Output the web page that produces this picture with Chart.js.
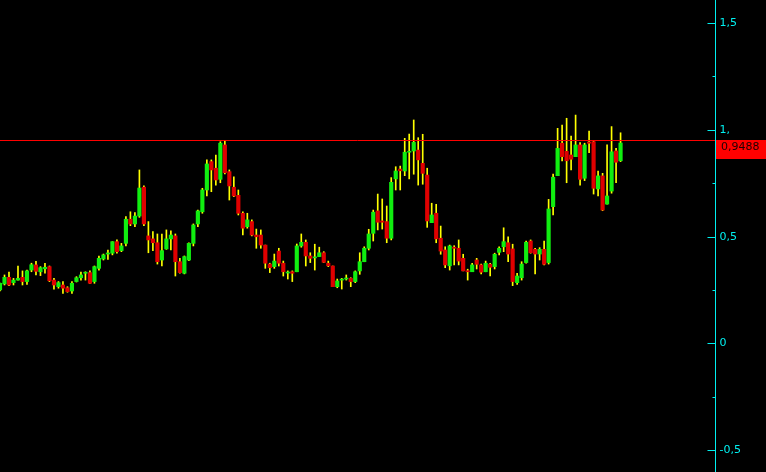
<!DOCTYPE html>
<html>
<head>
<meta charset="utf-8">
<script src="https://cdn.jsdelivr.net/npm/chart.js@4.4.0/dist/chart.umd.min.js"></script>
<style>
  html, body { margin: 0; padding: 0; background: #000000; }
  #wrap { width: 766px; height: 472px; position: relative; }
</style>
</head>
<body>
<div id="wrap"><canvas id="priceChart"></canvas></div>
<script>
// ローソク足データ（始値・高値・安値・終値）
const opens = [
  0.250, 0.278, 0.309, 0.284, 0.296, 0.309, 0.289, 0.343, 0.367, 0.335,
  0.349, 0.359, 0.296, 0.265, 0.273, 0.260, 0.245, 0.289, 0.307, 0.328,
  0.331, 0.289, 0.351, 0.395, 0.418, 0.422, 0.476, 0.434, 0.468, 0.581,
  0.559, 0.596, 0.731, 0.503, 0.489, 0.471, 0.390, 0.442, 0.489, 0.503,
  0.382, 0.328, 0.390, 0.468, 0.559, 0.616, 0.718, 0.851, 0.820, 0.768,
  0.929, 0.804, 0.731, 0.693, 0.609, 0.546, 0.570, 0.507, 0.507, 0.460,
  0.371, 0.359, 0.432, 0.375, 0.329, 0.335, 0.335, 0.456, 0.473, 0.409,
  0.400, 0.406, 0.424, 0.375, 0.362, 0.265, 0.296, 0.301, 0.304, 0.289,
  0.339, 0.382, 0.445, 0.515, 0.620, 0.573, 0.570, 0.492, 0.770, 0.816,
  0.807, 0.895, 0.901, 0.905, 0.843, 0.788, 0.565, 0.609, 0.492, 0.437,
  0.363, 0.450, 0.445, 0.398, 0.340, 0.335, 0.390, 0.367, 0.335, 0.370,
  0.359, 0.426, 0.452, 0.471, 0.442, 0.284, 0.307, 0.378, 0.479, 0.440,
  0.418, 0.440, 0.378, 0.640, 0.785, 0.937, 0.899, 0.882, 0.874, 0.929,
  0.773, 0.943, 0.944, 0.723, 0.784, 0.652, 0.713, 0.901, 0.855,
];
const highs = [
  0.282, 0.320, 0.333, 0.304, 0.362, 0.339, 0.343, 0.375, 0.384, 0.359,
  0.375, 0.362, 0.304, 0.289, 0.289, 0.265, 0.289, 0.312, 0.334, 0.335,
  0.339, 0.362, 0.409, 0.418, 0.437, 0.476, 0.484, 0.468, 0.593, 0.616,
  0.612, 0.812, 0.737, 0.570, 0.523, 0.512, 0.512, 0.531, 0.527, 0.512,
  0.398, 0.409, 0.471, 0.559, 0.624, 0.726, 0.859, 0.859, 0.882, 0.944,
  0.948, 0.812, 0.780, 0.718, 0.616, 0.609, 0.578, 0.535, 0.531, 0.460,
  0.375, 0.418, 0.445, 0.385, 0.339, 0.339, 0.465, 0.512, 0.484, 0.424,
  0.464, 0.450, 0.429, 0.385, 0.362, 0.301, 0.304, 0.320, 0.307, 0.339,
  0.424, 0.452, 0.534, 0.624, 0.699, 0.676, 0.643, 0.776, 0.827, 0.830,
  0.960, 0.980, 1.046, 0.963, 0.979, 0.820, 0.656, 0.651, 0.549, 0.452,
  0.460, 0.457, 0.484, 0.417, 0.347, 0.375, 0.398, 0.371, 0.385, 0.375,
  0.422, 0.452, 0.541, 0.499, 0.464, 0.328, 0.382, 0.479, 0.484, 0.445,
  0.448, 0.479, 0.674, 0.793, 1.007, 1.022, 1.054, 0.971, 1.069, 0.940,
  0.937, 0.994, 0.949, 0.807, 0.796, 0.929, 1.015, 0.913, 0.986,
];
const lows = [
  0.245, 0.273, 0.270, 0.273, 0.296, 0.273, 0.276, 0.335, 0.320, 0.317,
  0.328, 0.289, 0.254, 0.258, 0.234, 0.239, 0.234, 0.287, 0.296, 0.296,
  0.280, 0.281, 0.343, 0.390, 0.393, 0.414, 0.422, 0.429, 0.456, 0.551,
  0.546, 0.590, 0.551, 0.424, 0.434, 0.371, 0.362, 0.440, 0.437, 0.315,
  0.328, 0.325, 0.387, 0.456, 0.546, 0.609, 0.690, 0.710, 0.741, 0.752,
  0.793, 0.671, 0.687, 0.601, 0.507, 0.539, 0.503, 0.445, 0.445, 0.351,
  0.331, 0.351, 0.362, 0.315, 0.301, 0.289, 0.335, 0.450, 0.362, 0.378,
  0.343, 0.406, 0.378, 0.359, 0.265, 0.260, 0.254, 0.296, 0.265, 0.284,
  0.323, 0.382, 0.437, 0.479, 0.531, 0.535, 0.471, 0.484, 0.718, 0.718,
  0.785, 0.770, 0.792, 0.741, 0.745, 0.543, 0.565, 0.471, 0.417, 0.354,
  0.343, 0.367, 0.367, 0.339, 0.296, 0.335, 0.348, 0.325, 0.335, 0.315,
  0.348, 0.414, 0.429, 0.382, 0.270, 0.276, 0.296, 0.375, 0.422, 0.325,
  0.390, 0.367, 0.371, 0.601, 0.785, 0.854, 0.752, 0.812, 0.874, 0.741,
  0.762, 0.893, 0.699, 0.690, 0.621, 0.652, 0.703, 0.752, 0.851,
];
const closes = [
  0.281, 0.309, 0.273, 0.296, 0.304, 0.289, 0.339, 0.368, 0.337, 0.354,
  0.356, 0.293, 0.273, 0.284, 0.258, 0.242, 0.281, 0.307, 0.320, 0.331,
  0.281, 0.359, 0.398, 0.414, 0.423, 0.476, 0.429, 0.456, 0.581, 0.559,
  0.596, 0.727, 0.559, 0.484, 0.471, 0.382, 0.434, 0.489, 0.507, 0.382,
  0.331, 0.406, 0.468, 0.554, 0.620, 0.718, 0.840, 0.812, 0.765, 0.937,
  0.799, 0.737, 0.690, 0.609, 0.539, 0.578, 0.507, 0.499, 0.460, 0.375,
  0.354, 0.385, 0.375, 0.335, 0.331, 0.328, 0.456, 0.473, 0.409, 0.398,
  0.401, 0.424, 0.379, 0.363, 0.265, 0.292, 0.298, 0.303, 0.289, 0.335,
  0.382, 0.445, 0.512, 0.614, 0.567, 0.567, 0.492, 0.754, 0.807, 0.808,
  0.895, 0.896, 0.941, 0.859, 0.796, 0.573, 0.601, 0.489, 0.432, 0.367,
  0.456, 0.445, 0.385, 0.339, 0.335, 0.367, 0.370, 0.333, 0.375, 0.356,
  0.417, 0.445, 0.476, 0.418, 0.289, 0.315, 0.371, 0.473, 0.424, 0.418,
  0.440, 0.370, 0.629, 0.778, 0.913, 0.874, 0.855, 0.862, 0.929, 0.768,
  0.929, 0.937, 0.726, 0.784, 0.624, 0.690, 0.897, 0.848, 0.938,
];

// 現在値と右軸の目盛り
const lastPrice = 0.9488;
const lastPriceLabel = "0,9488";
const tickValues = [1.5, 1, 0.5, 0, -0.5];
const tickLabels = ["1,5", "1,", "0,5", "0", "-0,5"];
const minorTickValues = [1.25, 0.75, 0.25, -0.25];
const slotCount = 160; // 右側の空きも含めた足の枠数

const UP_COLOR = "#10ee10";
const DOWN_COLOR = "#e00000";
const WICK_COLOR = "#ffff00";
const AXIS_COLOR = "#00f0f0";

// 右側の価格軸と現在値ラインを描くプラグイン
const priceAxisPlugin = {
  id: "priceAxis",
  afterDraw(chart) {
    const ctx = chart.ctx;
    const yScale = chart.scales.y;
    const area = chart.chartArea;
    const axisX = area.right + 0.5;

    ctx.save();
    ctx.lineWidth = 1;

    // 現在値ライン
    const py = Math.floor(yScale.getPixelForValue(lastPrice)) + 0.5;
    ctx.strokeStyle = "#ff0000";
    ctx.beginPath();
    ctx.moveTo(area.left, py);
    ctx.lineTo(area.right, py);
    ctx.stroke();

    // 軸線
    ctx.strokeStyle = AXIS_COLOR;
    ctx.beginPath();
    ctx.moveTo(axisX, 0);
    ctx.lineTo(axisX, chart.height);
    ctx.stroke();

    // 目盛りとラベル
    ctx.font = "11px 'DejaVu Sans'";
    ctx.fillStyle = AXIS_COLOR;
    ctx.textBaseline = "middle";
    tickValues.forEach((v, i) => {
      const y = Math.round(yScale.getPixelForValue(v)) + 0.5;
      ctx.beginPath();
      ctx.moveTo(axisX - 8, y);
      ctx.lineTo(axisX, y);
      ctx.stroke();
      ctx.fillText(tickLabels[i], axisX + 4, y);
    });
    minorTickValues.forEach((v) => {
      const y = Math.round(yScale.getPixelForValue(v)) + 0.5;
      ctx.beginPath();
      ctx.moveTo(axisX - 3, y);
      ctx.lineTo(axisX, y);
      ctx.stroke();
    });

    // 現在値ボックス
    ctx.fillStyle = "#ff0000";
    ctx.fillRect(area.right + 1, py - 0.5, chart.width - area.right - 1, 19);
    ctx.fillStyle = "#200000";
    ctx.textBaseline = "alphabetic";
    ctx.fillText(lastPriceLabel, area.right + 6, py + 9.5);

    ctx.restore();
  },
};

const labels = [];
for (let i = 0; i < slotCount; i++) labels.push(String(i));

const bodyColors = opens.map((o, i) => (closes[i] >= o ? UP_COLOR : DOWN_COLOR));

new Chart(document.getElementById("priceChart"), {
  type: "bar",
  data: {
    labels: labels,
    datasets: [
      {
        label: "body",
        data: opens.map((o, i) => [o, closes[i]]),
        backgroundColor: bodyColors,
        barThickness: 3.5,
        minBarLength: 1,
        grouped: false,
        order: 0,
      },
      {
        label: "wick",
        data: lows.map((l, i) => [l, highs[i]]),
        backgroundColor: WICK_COLOR,
        barThickness: 1,
        grouped: false,
        order: 1,
      },
    ],
  },
  options: {
    responsive: true,
    maintainAspectRatio: false,
    animation: false,
    layout: { padding: { left: 0, right: 51, top: 0, bottom: 0 } },
    scales: {
      x: { display: false, offset: false },
      y: { display: false, min: -0.603, max: 1.608 },
    },
    plugins: {
      legend: { display: false },
      tooltip: { enabled: false },
    },
  },
  plugins: [priceAxisPlugin],
});
</script>
</body>
</html>
